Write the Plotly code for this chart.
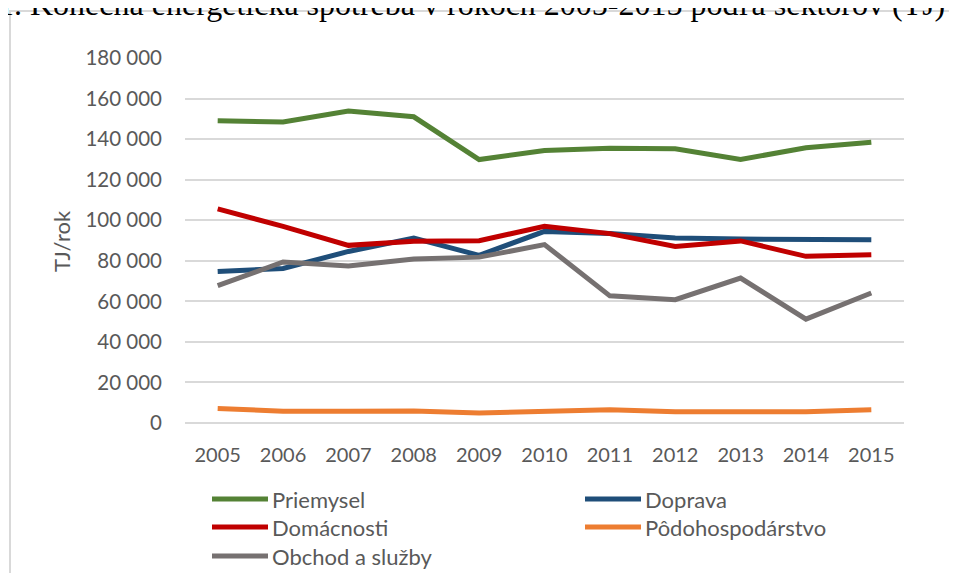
import plotly.graph_objects as go

# ---- data ----
years = ["2005", "2006", "2007", "2008", "2009", "2010", "2011", "2012", "2013", "2014", "2015"]
priemysel = [149000, 148400, 153800, 151000, 129900, 134400, 135500, 135200, 130000, 135700, 138500]
doprava = [74700, 76200, 84600, 91200, 82700, 94500, 93400, 91200, 90700, 90400, 90400]
domacnosti = [105600, 97000, 87600, 89600, 89900, 97000, 93400, 87100, 89800, 82200, 83000]
podohospodarstvo = [7200, 5800, 5800, 5900, 4900, 5900, 6500, 5500, 5500, 5500, 6500]
obchod = [67700, 79400, 77400, 80900, 81800, 88000, 62700, 60800, 71500, 51200, 64100]

series_names = ["Priemysel", "Doprava", "Domácnosti", "Pôdohospodárstvo", "Obchod a služby"]
series_values = [priemysel, doprava, domacnosti, podohospodarstvo, obchod]
series_colors = ["#548235", "#1F4E79", "#C00000", "#ED7D31", "#767171"]

y_tickvals = [0, 20000, 40000, 60000, 80000, 100000, 120000, 140000, 160000, 180000]
y_ticktext = ["0", "20 000", "40 000", "60 000", "80 000", "100 000", "120 000", "140 000", "160 000", "180 000"]

title_text = "1. Konečná energetická spotreba v rokoch 2005-2015 podľa sektorov (TJ)"
y_title = "TJ/rok"

# ---- layout geometry ----
# the page body adds an 8px margin; figure is sized so the page does not scroll.
OFF = 8
W, H = 957 - 2 * OFF, 581 - 2 * OFF
L, T = 185 - OFF, 58 - OFF
PW, PH = 719, 365
R, B = W - L - PW, H - T - PH


def xp(px):
    """page pixel x -> paper coordinate"""
    return (px - OFF - L) / PW


def yp(py):
    """page pixel y -> paper coordinate"""
    return (T + PH - (py - OFF)) / PH


GRAY_TEXT = "#595959"
GRID = "#D9D9D9"
FONT = "Lato"

fig = go.Figure()
for name, vals, col in zip(series_names, series_values, series_colors):
    fig.add_trace(go.Scatter(
        x=years, y=vals, name=name, mode="lines",
        line=dict(color=col, width=5),
        showlegend=False, hoverinfo="x+y+name",
    ))

shapes = []
annotations = []

# outer chart frame: only top and left edges fall inside the window
shapes.append(dict(type="line", xref="paper", yref="paper",
                   x0=xp(9), x1=xp(1000), y0=yp(11), y1=yp(11),
                   line=dict(color=GRID, width=2), layer="below"))
shapes.append(dict(type="line", xref="paper", yref="paper",
                   x0=xp(10), x1=xp(10), y0=yp(11), y1=yp(700),
                   line=dict(color=GRID, width=2), layer="below"))

# clipped document caption above chart
annotations.append(dict(text=title_text, xref="paper", yref="paper",
                        x=xp(947), y=yp(24), xanchor="right", yanchor="bottom",
                        showarrow=False,
                        font=dict(family="Liberation Serif", size=32, color="#000000")))

# y axis title
annotations.append(dict(text=y_title, xref="paper", yref="paper",
                        x=xp(61), y=yp(241), xanchor="center", yanchor="middle",
                        textangle=-90, showarrow=False,
                        font=dict(family=FONT, size=22, color=GRAY_TEXT)))

# manual legend (2 columns)
leg_cols = [212, 585]
leg_rows = [499, 527, 556]
sw_len = 56
for i, (name, col) in enumerate(zip(series_names, series_colors)):
    cx = leg_cols[i % 2]
    cy = leg_rows[i // 2]
    shapes.append(dict(type="line", xref="paper", yref="paper",
                       x0=xp(cx), x1=xp(cx + sw_len), y0=yp(cy), y1=yp(cy),
                       line=dict(color=col, width=5)))
    annotations.append(dict(text=name, xref="paper", yref="paper",
                            x=xp(cx + sw_len + 2), y=yp(cy), xanchor="left", yanchor="middle",
                            showarrow=False,
                            font=dict(family=FONT, size=22, color=GRAY_TEXT)))

fig.update_layout(
    width=W, height=H,
    margin=dict(l=L, r=R, t=T, b=B, pad=0),
    paper_bgcolor="white", plot_bgcolor="white",
    font=dict(family=FONT, size=20, color=GRAY_TEXT),
    shapes=shapes, annotations=annotations,
    xaxis=dict(type="category", range=[-0.5, 10.5], showgrid=False, zeroline=False,
               showline=False, ticks="", ticklabelstandoff=18,
               tickfont=dict(family=FONT, size=20, color=GRAY_TEXT), fixedrange=True),
    yaxis=dict(range=[0, 180000], tickvals=y_tickvals, ticktext=y_ticktext,
               showgrid=True, gridcolor=GRID, gridwidth=1.5,
               zeroline=True, zerolinecolor=GRID, zerolinewidth=1.5,
               showline=False, ticks="", ticklabelstandoff=22,
               tickfont=dict(family=FONT, size=20.5, color=GRAY_TEXT), fixedrange=True),
    showlegend=False,
)

fig.write_html("out.html")
